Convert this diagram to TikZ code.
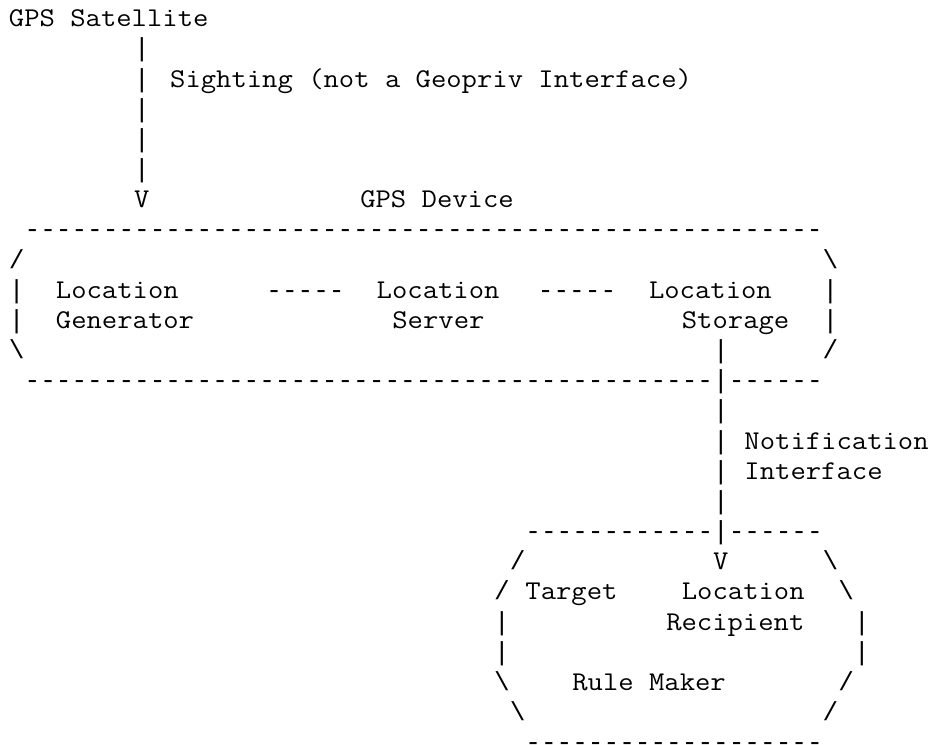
\documentclass[tikz,border=0pt]{standalone}
\usepackage{fontspec}
\setmonofont{Latin Modern Mono}[FakeStretch=1.1]
\newfontfamily\boxfont{Liberation Mono}
% a run of n dashes, kept apart so that no ligature forms
\newcommand\dashrun[1]{\foreach \k in {1,...,#1}{-\kern0pt}}

\begin{document}
\begin{tikzpicture}[x=11.7375pt, y=-22.6275pt,
    every node/.style={anchor=base west, inner sep=0pt},
    txt/.style={font=\ttfamily\fontsize{20.32pt}{22.63pt}\selectfont},
    boxchar/.style={font=\boxfont\fontsize{19.56pt}{22.63pt}\selectfont}]
    \useasboundingbox (-0.556,-0.885) rectangle (59.574,23.808);

	% satellite and sighting
	\node[txt] (sat) at (0,0) {GPS Satellite};
	\node[boxchar] (s1) at (8,1) {|};
	\node[boxchar] (s2) at (8,2) {|};
	\node[txt] (sight) at (10.3,2) {Sighting (not a Geopriv Interface)};
	\node[boxchar] (s3) at (8,3) {|};
	\node[boxchar] (s4) at (8,4) {|};
	\node[boxchar] (s5) at (8,5) {|};
	\node[txt] (sv) at (8,6) {V};
	\node[txt] (dev) at (22.45,6) {GPS Device};

	% GPS device box
	\node[boxchar] (devtop) at (1,7) {\dashrun{51}};
	\node[boxchar] (devtl) at (0,8) {/};
	\node[boxchar] (devtr) at (52,8) {\textbackslash};
	\node[boxchar] (devl1) at (0,9) {|};
	\node[txt] (gen1) at (3,9) {Location};
	\node[boxchar] (gs) at (16.45,9) {\dashrun{5}};
	\node[txt] (srv1) at (23.5,9) {Location};
	\node[boxchar] (ss) at (33.8,9) {\dashrun{5}};
	\node[txt] (sto1) at (40.9,9) {Location};
	\node[boxchar] (devr1) at (52,9) {|};
	\node[boxchar] (devl2) at (0,10) {|};
	\node[txt] (gen2) at (3,10) {Generator};
	\node[txt] (srv2) at (24.5,10) {Server};
	\node[txt] (sto2) at (43,10) {Storage};
	\node[boxchar] (devr2) at (52,10) {|};
	\node[boxchar] (devbl) at (0,11) {\textbackslash};
	\node[boxchar] (n0) at (45,11) {|};
	\node[boxchar] (devbr) at (52,11) {/};
	\node[boxchar] (devbot1) at (1,12) {\dashrun{44}};
	\node[boxchar] (n1) at (45,12) {|};
	\node[boxchar] (devbot2) at (46,12) {\dashrun{6}};

	% notification interface
	\node[boxchar] (n2) at (45,13) {|};
	\node[boxchar] (n3) at (45,14) {|};
	\node[txt] (notif) at (47,14) {Notification};
	\node[boxchar] (n4) at (45,15) {|};
	\node[txt] (iface) at (47,15) {Interface};
	\node[boxchar] (n5) at (45,16) {|};

	% recipient box
	\node[boxchar] (rectop1) at (33,17) {\dashrun{12}};
	\node[boxchar] (n6) at (45,17) {|};
	\node[boxchar] (rectop2) at (46,17) {\dashrun{6}};
	\node[boxchar] (rectl1) at (32,18) {/};
	\node[txt] (nv) at (45,18) {V};
	\node[boxchar] (rectr1) at (52,18) {\textbackslash};
	\node[boxchar] (rectl2) at (31,19) {/};
	\node[txt] (target) at (33,19) {Target};
	\node[txt] (rec1) at (43,19) {Location};
	\node[boxchar] (rectr2) at (53,19) {\textbackslash};
	\node[boxchar] (recl1) at (31,20) {|};
	\node[txt] (rec2) at (42,20) {Recipient};
	\node[boxchar] (recr1) at (54,20) {|};
	\node[boxchar] (recl2) at (31,21) {|};
	\node[boxchar] (recr2) at (54,21) {|};
	\node[boxchar] (recbl1) at (31,22) {\textbackslash};
	\node[txt] (rule) at (36,22) {Rule Maker};
	\node[boxchar] (recbr1) at (53,22) {/};
	\node[boxchar] (recbl2) at (32,23) {\textbackslash};
	\node[boxchar] (recbr2) at (52,23) {/};
	\node[boxchar] (recbot) at (33,24) {\dashrun{19}};
\end{tikzpicture}
\end{document}
